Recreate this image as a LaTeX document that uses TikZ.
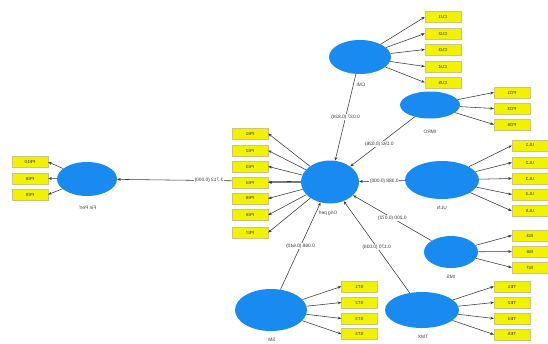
\documentclass[tikz,border=0pt]{standalone}
\usepackage{graphicx}
\usepackage{fontspec}
\setmainfont{Liberation Sans}
\usetikzlibrary{shapes.geometric,arrows.meta,backgrounds}
\definecolor{lvblue}{RGB}{24,138,240}
\definecolor{indyel}{RGB}{242,242,0}
\definecolor{indbd}{RGB}{200,200,120}
\definecolor{edgecol}{RGB}{55,55,55}
\newcommand\mir[1]{\reflectbox{#1}}
\tikzset{
  lv/.style={ellipse, fill=lvblue, draw=none, inner sep=0pt},
  ind/.style={rectangle, fill=indyel, draw=indbd, line width=0.4pt,
    minimum width=36pt, minimum height=11pt, inner sep=0pt,
    font=\fontsize{4.4}{5}\selectfont, text=black!80},
  lvlab/.style={font=\fontsize{4.8}{5}\selectfont, text=black!75, inner sep=0pt},
  plab/.style={fill=white, inner sep=0.8pt, font=\fontsize{4.8}{5}\selectfont, text=black!80},
  arr/.style={draw=edgecol, line width=0.55pt, -{Stealth[length=3.6pt,width=2.8pt]}}
}
\begin{document}
\begin{tikzpicture}[x=1pt,y=-1pt]
\useasboundingbox (0,0) rectangle (548,343);

% latent variables
\node[lv, minimum width=60pt, minimum height=34pt] (FP) at (87,179) {};
\node[lv, minimum width=58pt, minimum height=43pt] (OP) at (330,182) {};
\node[lv, minimum width=62pt, minimum height=34pt] (CMI) at (360,57) {};
\node[lv, minimum width=60pt, minimum height=27pt] (IMRO) at (430,105) {};
\node[lv, minimum width=74pt, minimum height=38pt] (ULN) at (442,180) {};
\node[lv, minimum width=54pt, minimum height=32pt] (IMS) at (451,252) {};
\node[lv, minimum width=74pt, minimum height=36pt] (TMX) at (422,310) {};
\node[lv, minimum width=72pt, minimum height=42pt] (SM) at (271,310) {};

% latent labels (mirrored as in the reference)
\node[lvlab] (FPl) at (88,208) {\mir{Fin Perf}};
\node[lvlab] (OPl) at (328,213) {\mir{Orig perf}};
\node[lvlab] (CMIl) at (361,85) {\mir{CMI}};
\node[lvlab] (IMROl) at (430,132) {\mir{IMRO}};
\node[lvlab] (ULNl) at (442,208) {\mir{ULN}};
\node[lvlab] (IMSl) at (451,277) {\mir{IMS}};
\node[lvlab] (TMXl) at (423,337) {\mir{TMX}};
\node[lvlab] (SMl) at (272,340) {\mir{SM}};

% structural paths
\begin{pgfonlayer}{background}
\fill[white] (0,0) rectangle (548,343);
\draw[arr] (OP) -- node[plab] (pFP) {\mir{3.713 (0.000)}} (FP);
\end{pgfonlayer}
\draw[arr] (CMI) -- node[plab] (pCMI) {\mir{0.037 (0.824)}} (OP);
\draw[arr] (IMRO) -- node[plab, pos=0.55] (pIMRO) {\mir{0.192 (0.026)}} (OP);
\draw[arr] (ULN) -- node[plab, pos=0.45] (pULN) {\mir{0.388 (0.000)}} (OP);
\draw[arr] (IMS) -- node[plab] (pIMS) {\mir{0.200 (0.072)}} (OP);
\draw[arr] (TMX) -- node[plab] (pTMX) {\mir{0.170 (0.034)}} (OP);
\draw[arr] (SM) -- node[plab] (pSM) {\mir{0.068 (0.640)}} (OP);

% indicators of Fin Perf
\node[ind] (PE10) at (30,162) {\mir{PE10}};
\node[ind] (PE8f) at (30,178.5) {\mir{PE8}};
\node[ind] (PE9) at (30,194.5) {\mir{PE9}};
\foreach \n in {PE10,PE8f,PE9} \draw[arr] (FP) -- (\n.east);

% indicators of Orig perf
\foreach \i/\y in {1/133.5,2/150.5,3/166.5,4/182.5,5/198.5,6/215,7/232.5}
  \node[ind] (PE\i) at (250,\y) {\mir{PE\i}};
\foreach \i in {1,...,7} \draw[arr] (OP) -- (PE\i.east);

% CMI
\foreach \i/\y in {1/17,2/33.5,3/49.5,4/66.5,5/82.5}
  \node[ind] (CU\i) at (443,\y) {\mir{CU\i}};
\foreach \i in {1,...,5} \draw[arr] (CMI) -- (CU\i.west);

% IMRO
\foreach \i/\y in {1/92.5,3/108.5,8/124.5}
  \node[ind] (PO\i) at (512,\y) {\mir{PO\i}};
\foreach \i in {1,3,8} \draw[arr] (IMRO) -- (PO\i.west);

% ULN
\foreach \i/\y in {1/145.5,2/162.5,3/178.5,4/194.5,5/211}
  \node[ind] (UL\i) at (530,\y) {\mir{UL\i}};
\foreach \i in {1,...,5} \draw[arr] (ULN) -- (UL\i.west);

% IMS
\foreach \i/\y in {3/235.5,6/251.5,7/267.5}
  \node[ind] (IS\i) at (530,\y) {\mir{IS\i}};
\foreach \i in {3,6,7} \draw[arr] (IMS) -- (IS\i.west);

% TMX
\foreach \i/\y in {1/286.5,2/302.5,4/318.5,5/334.5}
  \node[ind] (TE\i) at (512,\y) {\mir{TE\i}};
\foreach \i in {1,2,4,5} \draw[arr] (TMX) -- (TE\i.west);

% SM
\foreach \i/\y in {1/286.5,2/302.5,3/318.5,4/334}
  \node[ind] (ST\i) at (359.5,\y) {\mir{ST\i}};
\foreach \i in {1,...,4} \draw[arr] (SM) -- (ST\i.west);
\end{tikzpicture}
\end{document}
